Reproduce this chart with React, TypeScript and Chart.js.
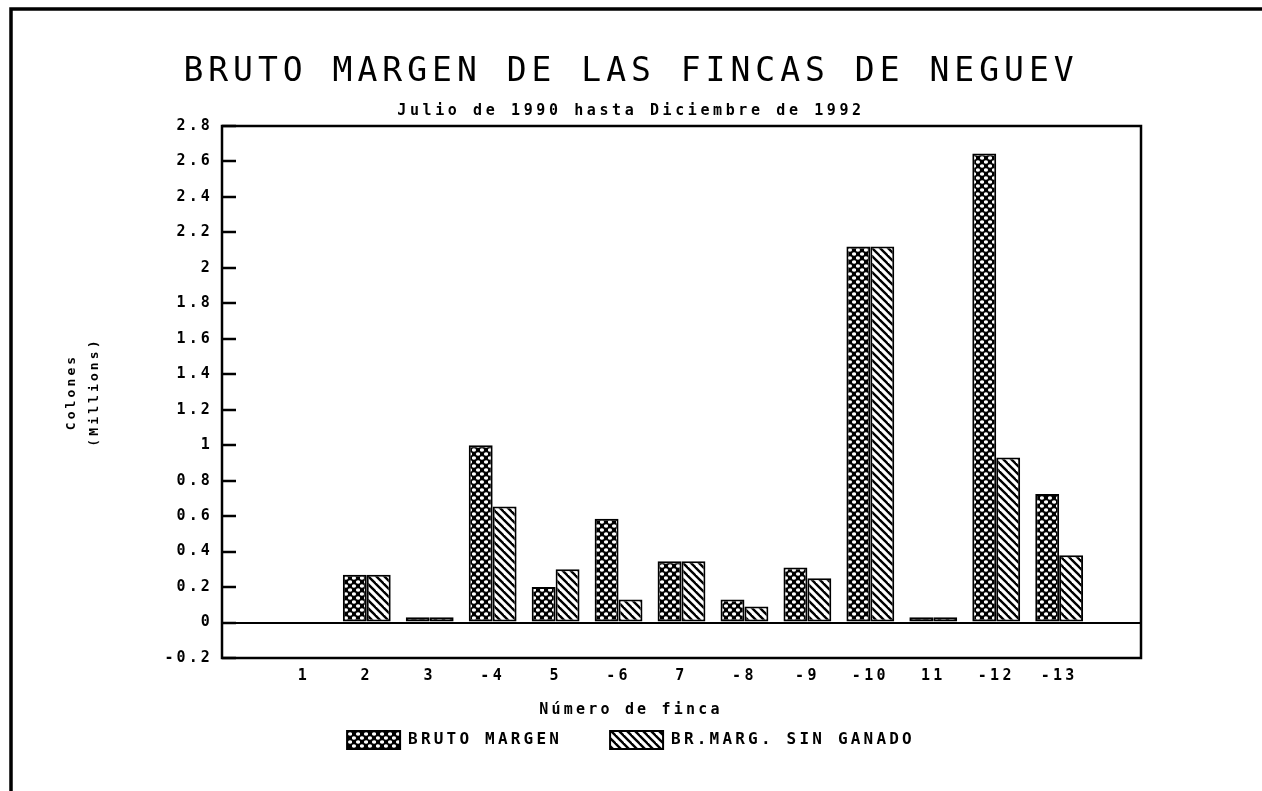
import React, { useEffect, useRef } from 'react';
import { Chart, registerables } from 'chart.js';

Chart.register(...registerables);

// ---------- data ----------
const TITLE = 'BRUTO MARGEN DE LAS FINCAS DE NEGUEV';
const SUBTITLE = 'Julio de 1990 hasta Diciembre de 1992';
const X_TITLE = 'Número de finca';
const Y_TITLE = ['Colones', '(Millions)'];

const seriesNames = ['BRUTO MARGEN', 'BR.MARG. SIN GANADO'];

const fincaLabels = ['1', '2', '3', '-4', '5', '-6', '7', '-8', '-9', '-10', '11', '-12', '-13'];
const fincaPositions = [1, 2, 3, 4, 5, 6, 7, 8, 9, 10, 11, 12, 13];

const brutoMargen = [0, 0.27, 0.03, 1.0, 0.2, 0.585, 0.345, 0.13, 0.31, 2.12, 0.03, 2.645, 0.725];
const brMargSinGanado = [0, 0.27, 0.03, 0.655, 0.3, 0.13, 0.345, 0.09, 0.25, 2.12, 0.03, 0.93, 0.38];

const yTickValues = [-0.2, 0, 0.2, 0.4, 0.6, 0.8, 1, 1.2, 1.4, 1.6, 1.8, 2, 2.2, 2.4, 2.6, 2.8];
const yTickLabels = ['-0.2', '0', '0.2', '0.4', '0.6', '0.8', '1', '1.2', '1.4', '1.6', '1.8', '2', '2.2', '2.4', '2.6', '2.8'];

const MONO = "'DejaVu Sans Mono', 'Liberation Mono', monospace";

// ---------- patterns ----------
function makeCrossHatch(): CanvasPattern | string {
  const c = document.createElement('canvas');
  c.width = 8;
  c.height = 8;
  const g = c.getContext('2d');
  if (!g) return '#000';
  g.fillStyle = '#000';
  g.fillRect(0, 0, 8, 8);
  g.fillStyle = '#fff';
  const dots = [
    [2, 2],
    [6, 6],
  ];
  for (const [x, y] of dots) {
    g.beginPath();
    g.ellipse(x, y, 2.1, 1.8, 0, 0, Math.PI * 2);
    g.fill();
  }
  return g.createPattern(c, 'repeat') || '#000';
}

function makeDiagonalHatch(): CanvasPattern | string {
  const c = document.createElement('canvas');
  c.width = 8;
  c.height = 8;
  const g = c.getContext('2d');
  if (!g) return '#888';
  g.fillStyle = '#fff';
  g.fillRect(0, 0, 8, 8);
  g.strokeStyle = '#000';
  g.lineWidth = 2.4;
  for (const k of [-8, 0, 8]) {
    g.beginPath();
    g.moveTo(k - 2, -2);
    g.lineTo(k + 10, 10);
    g.stroke();
  }
  return g.createPattern(c, 'repeat') || '#888';
}

// ---------- per-box letter spacing (plotter-like spaced lettering) ----------
function spacingFor(chart: any, box: any): string | null {
  if (box === chart.titleBlock) return '5px';
  if (box === chart.legend) return '3.2px';
  if (box.options && box.options.text === SUBTITLE) return '3.6px';
  if (box.id === 'x') return '3.3px';
  if (box.id === 'y') return '3.1px';
  return null;
}

const spacingPlugin = {
  id: 'letterSpacingBoxes',
  beforeLayout(chart: any) {
    for (const box of chart.boxes) {
      if (box.__spacingWrapped) continue;
      const sp = spacingFor(chart, box);
      if (!sp) continue;
      box.__spacingWrapped = true;
      for (const name of ['update', 'draw']) {
        const orig = box[name];
        box[name] = function (...args: any[]) {
          const ctx: any = chart.ctx;
          const prev = ctx.letterSpacing;
          ctx.letterSpacing = sp;
          try {
            return orig.apply(this, args);
          } finally {
            ctx.letterSpacing = prev || '0px';
          }
        };
      }
    }
  },
};

const framePlugin = {
  id: 'frames',
  afterDraw(chart: any) {
    const { ctx, chartArea: a } = chart;
    ctx.save();
    ctx.strokeStyle = '#000';
    ctx.lineWidth = 2.5;
    ctx.strokeRect(a.left, a.top, a.right - a.left, a.bottom - a.top);
    ctx.lineWidth = 3.5;
    ctx.beginPath();
    ctx.moveTo(11, chart.height);
    ctx.lineTo(11, 9);
    ctx.lineTo(chart.width, 9);
    ctx.stroke();
    ctx.restore();
  },
};

export default function App() {
  const canvasRef = useRef<HTMLCanvasElement | null>(null);

  useEffect(() => {
    const canvas = canvasRef.current;
    if (!canvas) return;

    const crossHatch = makeCrossHatch();
    const diagHatch = makeDiagonalHatch();

    const tickFont = { family: MONO, size: 15, weight: 'bold' as const };

    const chart = new Chart(canvas, {
      type: 'bar',
      data: {
        datasets: [
          {
            label: seriesNames[0],
            data: fincaPositions.map((x, i) => ({ x, y: brutoMargen[i] })),
            backgroundColor: crossHatch as any,
            borderColor: '#000',
            borderWidth: 2,
            borderSkipped: false,
            categoryPercentage: 0.76,
            barPercentage: 1,
          },
          {
            label: seriesNames[1],
            data: fincaPositions.map((x, i) => ({ x, y: brMargSinGanado[i] })),
            backgroundColor: diagHatch as any,
            borderColor: '#000',
            borderWidth: 2,
            borderSkipped: false,
            categoryPercentage: 0.76,
            barPercentage: 1,
          },
        ],
      },
      options: {
        responsive: false,
        animation: false,
        devicePixelRatio: 1,
        layout: { padding: { left: 121, right: 121, top: 0, bottom: 32 } },
        plugins: {
          title: {
            display: true,
            text: TITLE,
            color: '#000',
            font: { family: MONO, size: 33, weight: 'normal' },
            padding: { top: 53, bottom: 0 },
          },
          subtitle: {
            display: true,
            text: SUBTITLE,
            color: '#000',
            font: { family: MONO, size: 15, weight: 'bold' },
            padding: { top: 9.9, bottom: 5.5 },
          },
          legend: {
            display: true,
            position: 'bottom',
            labels: {
              color: '#000',
              font: { family: MONO, size: 16, weight: 'bold' },
              boxWidth: 53,
              boxHeight: 18,
              padding: 48,
            },
            title: {
              display: true,
              text: X_TITLE,
              color: '#000',
              font: { family: MONO, size: 15, weight: 'bold' },
              padding: { top: 14.5, bottom: -37.5 },
            },
          },
          tooltip: { enabled: false },
        },
        scales: {
          x: {
            type: 'linear',
            min: -0.3,
            max: 14.3,
            bounds: 'data',
            offset: false,
            grid: { display: false, drawTicks: false, offset: false, tickLength: 0 },
            border: { display: false },
            ticks: {
              autoSkip: false,
              maxRotation: 0,
              minRotation: 0,
              padding: 9,
              color: '#000',
              font: tickFont,
              callback: (value: any) => {
                const i = fincaPositions.indexOf(Number(value));
                return i >= 0 ? fincaLabels[i] : '';
              },
            },
            afterBuildTicks: (scale: any) => {
              scale.ticks = fincaPositions.map((v) => ({ value: v }));
            },
            afterFit: (scale: any) => {
              scale.height = 30;
            },
          },
          y: {
            type: 'linear',
            min: -0.2,
            max: 2.8,
            bounds: 'data',
            grid: {
              display: true,
              drawOnChartArea: true,
              drawTicks: true,
              tickLength: -14,
              lineWidth: 2,
              tickWidth: 2.5,
              tickColor: '#000',
              color: (c: any) => (c.tick && Math.abs(c.tick.value) < 1e-9 ? '#000' : 'rgba(0,0,0,0)'),
            },
            border: { display: false },
            ticks: {
              autoSkip: false,
              padding: 23,
              color: '#000',
              font: tickFont,
              callback: (value: any) => {
                const i = yTickValues.findIndex((v) => Math.abs(v - Number(value)) < 1e-9);
                return i >= 0 ? yTickLabels[i] : '';
              },
            },
            title: {
              display: true,
              text: Y_TITLE,
              color: '#000',
              font: { family: MONO, size: 13, weight: 'bold', lineHeight: '23px' as any },
              padding: { top: -60.5, bottom: 0 },
            },
            afterBuildTicks: (scale: any) => {
              scale.ticks = yTickValues.map((v) => ({ value: v }));
            },
            afterFit: (scale: any) => {
              scale.width = 101;
            },
          },
        },
      } as any,
      plugins: [spacingPlugin as any, framePlugin as any],
    });

    return () => {
      chart.destroy();
    };
  }, []);

  return (
    <div
      style={{
        position: 'fixed',
        left: 0,
        top: 0,
        width: 1262,
        height: 791,
        background: '#fff',
      }}
    >
      <canvas ref={canvasRef} width={1262} height={791} style={{ display: 'block' }} />
    </div>
  );
}
